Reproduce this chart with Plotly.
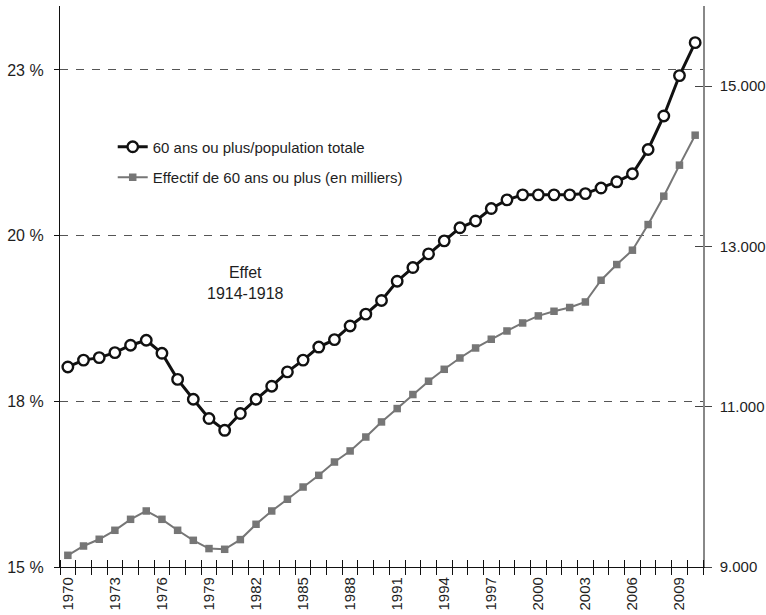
import plotly.graph_objects as go

years = list(range(1970, 2011))

# Share of 60+ in total population (read in the chart's left-axis units)
part_60 = [18.22, 18.33, 18.37, 18.45, 18.57, 18.65, 18.44, 18.02, 17.70, 17.39,
           17.20, 17.47, 17.70, 17.91, 18.14, 18.33, 18.54, 18.66, 18.88, 19.07,
           19.29, 19.60, 19.82, 20.04, 20.25, 20.46, 20.57, 20.77, 20.91, 20.99,
           20.99, 20.99, 20.99, 21.01, 21.10, 21.20, 21.33, 21.72, 22.26, 22.91,
           23.44]

# Number of people aged 60+ (thousands, right axis)
effectif_60 = [9146, 9262, 9346, 9458, 9595, 9699, 9595, 9458, 9333, 9230,
               9221, 9342, 9533, 9699, 9845, 9998, 10144, 10310, 10448, 10622,
               10810, 10977, 11152, 11318, 11467, 11608, 11733, 11842, 11945, 12045,
               12133, 12191, 12238, 12307, 12578, 12774, 12953, 13273, 13627, 14014,
               14388]

left_tickvals = [15, 17.667, 20.333, 23]
left_ticktext = ["15 %", "18 %", "20 %", "23 %"]
right_tickvals = [9000, 11000, 13000, 15000]
right_ticktext = ["9.000", "11.000", "13.000", "15.000"]
x_label_years = list(range(1970, 2011, 3))
x_boundaries = [y - 0.5 for y in range(1970, 2012)]

FONT = "Liberation Sans, Arial, sans-serif"
TXT = "#1e1e1e"

fig = go.Figure()

fig.add_trace(go.Scatter(
    x=years, y=effectif_60, yaxis="y2", mode="lines+markers",
    name="Effectif de 60 ans ou plus (en milliers)",
    line=dict(color="#767676", width=2),
    marker=dict(symbol="square", size=7.5, color="#767676"),
    legendgroup="b", legendrank=2,
))
fig.add_trace(go.Scatter(
    x=years, y=part_60, mode="lines+markers",
    name="60 ans ou plus/population totale",
    line=dict(color="#111111", width=3),
    marker=dict(symbol="circle", size=10.5, color="white",
                line=dict(color="#111111", width=2.4)),
    legendgroup="a", legendrank=1,
))
# helper traces so that the overlay axes (inner halves of crossing ticks) are drawn
fig.add_trace(go.Scatter(x=[], y=[], xaxis="x2", yaxis="y", showlegend=False, hoverinfo="skip"))
fig.add_trace(go.Scatter(x=[], y=[], xaxis="x", yaxis="y3", showlegend=False, hoverinfo="skip"))

fig.add_annotation(x=1981.3, y=19.57, xref="x", yref="y", text="Effet<br>1914-1918",
                   showarrow=False, font=dict(family=FONT, size=16, color=TXT), align="center")

xr = [1969.5, 2010.5]
fig.update_layout(
    width=766, height=615,
    margin=dict(l=60, r=63, t=6, b=48, autoexpand=False),
    paper_bgcolor="white", plot_bgcolor="white",
    font=dict(family=FONT, size=15, color=TXT),
    showlegend=True,
    legend=dict(x=0.082, y=0.778, xanchor="left", yanchor="top",
                bgcolor="rgba(0,0,0,0)", traceorder="grouped", tracegroupgap=8,
                font=dict(family=FONT, size=15, color=TXT), itemwidth=30),
    xaxis=dict(range=xr, tickmode="array", tickvals=x_label_years,
               ticktext=[str(v) for v in x_label_years], tickangle=-90,
               ticks="", ticklabelstandoff=3, showgrid=False, zeroline=False,
               showline=True, linecolor="#111111", linewidth=1.3, automargin=False,
               tickfont=dict(family=FONT, size=15, color=TXT),
               minor=dict(tickmode="array", tickvals=x_boundaries, ticks="outside",
                          ticklen=7, tickcolor="#111111", tickwidth=1.2, showgrid=False)),
    xaxis2=dict(range=xr, overlaying="x", anchor="y", side="bottom", automargin=False,
                showticklabels=False, ticks="", showgrid=False, zeroline=False, showline=False,
                minor=dict(tickmode="array", tickvals=x_boundaries, ticks="inside",
                           ticklen=7, tickcolor="#111111", tickwidth=1.2, showgrid=False)),
    yaxis=dict(range=[15, 24.03], tickmode="array", tickvals=left_tickvals,
               ticktext=left_ticktext, ticks="outside", ticklen=5, tickcolor="#111111",
               showgrid=True, gridcolor="#555555", gridwidth=1, griddash="8px,8px",
               zeroline=False, showline=True, linecolor="#111111", linewidth=1.3,
               automargin=False,
               tickfont=dict(family=FONT, size=16, color=TXT), ticklabelstandoff=7),
    yaxis2=dict(range=[9000, 16000], overlaying="y", side="right", anchor="x",
                tickmode="array", tickvals=right_tickvals, ticktext=right_ticktext,
                ticks="outside", ticklen=7, tickcolor="#444444", tickwidth=1.2,
                showgrid=False, zeroline=False, showline=True, linecolor="#888888",
                linewidth=1.5, tickfont=dict(family=FONT, size=15, color=TXT),
                automargin=False, ticklabelstandoff=5),
    yaxis3=dict(range=[9000, 16000], overlaying="y", side="right", anchor="x",
                tickmode="array", tickvals=right_tickvals, showticklabels=False,
                ticks="inside", ticklen=8, tickcolor="#444444", tickwidth=1.2,
                showgrid=False, zeroline=False, showline=False, automargin=False),
)

fig.write_html("out.html", config={"displayModeBar": False},
               post_script="document.body.style.margin='0';")
